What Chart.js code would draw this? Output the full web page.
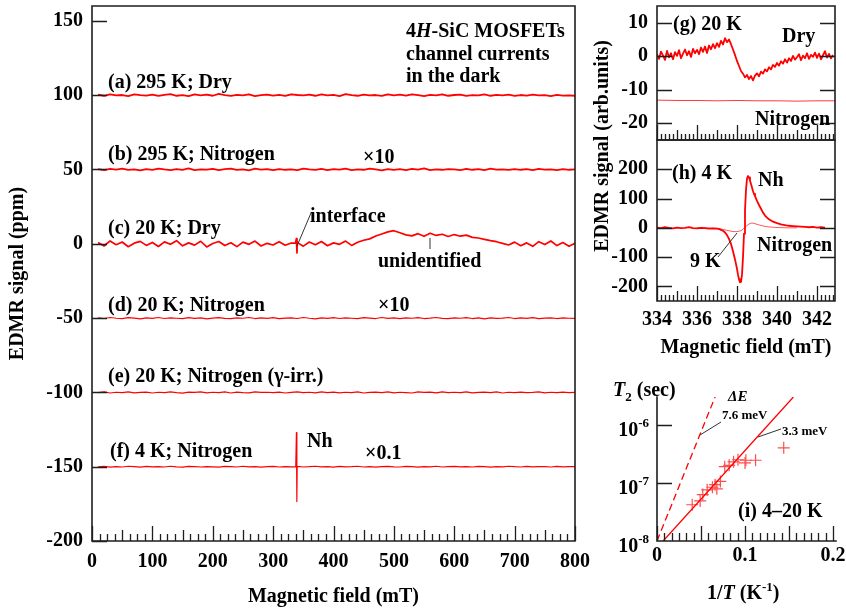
<!DOCTYPE html>
<html><head><meta charset="utf-8"><title>EDMR 4H-SiC MOSFETs</title>
<script src="https://cdn.jsdelivr.net/npm/chart.js@4.4.1/dist/chart.umd.min.js"></script>
<style>
html,body{margin:0;padding:0;background:#fff}
#wrap{position:relative;width:846px;height:614px;overflow:hidden;font-family:'Liberation Serif','Times New Roman',serif;font-weight:bold;color:#000}
#wrap canvas{position:absolute}
.t{position:absolute;white-space:nowrap;font-size:20px;line-height:20px}
.sm{position:absolute;white-space:nowrap;font-size:13px;line-height:13px}
svg{position:absolute;left:0;top:0}
</style></head><body>
<div id="wrap">
<canvas id="cMain" width="600" height="614" style="left:0;top:0"></canvas>
<canvas id="cG" width="246" height="150" style="left:600px;top:0"></canvas>
<canvas id="cH" width="246" height="230" style="left:600px;top:130px"></canvas>
<canvas id="cI" width="246" height="234" style="left:600px;top:380px"></canvas>
<svg width="846" height="614">
<g stroke="#333" stroke-width="1" fill="none">
<line x1="297" y1="246" x2="311" y2="213"/>
<line x1="430" y1="238" x2="430" y2="249"/>
<line x1="718" y1="257" x2="737" y2="233"/>
<line x1="700" y1="435" x2="721" y2="422"/>
<line x1="758" y1="437" x2="781" y2="429"/>
</g>
</svg>
<div class="t" style="left:108px;top:71px">(a) 295 K; Dry</div>
<div class="t" style="left:108px;top:143px">(b) 295 K; Nitrogen</div>
<div class="t" style="left:363px;top:146px">×10</div>
<div class="t" style="left:108px;top:217px">(c) 20 K; Dry</div>
<div class="t" style="left:310px;top:205px">interface</div>
<div class="t" style="left:378px;top:250px">unidentified</div>
<div class="t" style="left:108px;top:294px">(d) 20 K; Nitrogen</div>
<div class="t" style="left:378px;top:294px">×10</div>
<div class="t" style="left:108px;top:365px">(e) 20 K; Nitrogen (γ-irr.)</div>
<div class="t" style="left:110px;top:440px">(f) 4 K; Nitrogen</div>
<div class="t" style="left:307px;top:430px">Nh</div>
<div class="t" style="left:365px;top:442px">×0.1</div>
<div class="t" style="left:406px;top:20px">4<i>H</i>-SiC MOSFETs</div>
<div class="t" style="left:406px;top:43px">channel currents</div>
<div class="t" style="left:406px;top:65px">in the dark</div>
<div class="t" style="left:673px;top:13px">(g) 20 K</div>
<div class="t" style="left:782px;top:25px">Dry</div>
<div class="t" style="left:755px;top:108px">Nitrogen</div>
<div class="t" style="left:672px;top:162px">(h) 4 K</div>
<div class="t" style="left:758px;top:169px">Nh</div>
<div class="t" style="left:757px;top:234px">Nitrogen</div>
<div class="t" style="left:690px;top:250px">9 K</div>
<div class="t" style="left:601px;top:146px;transform:translate(-50%,-50%) rotate(-90deg)">EDMR signal (arb.units)</div>
<div class="t" style="left:613px;top:379px"><i>T</i><span style="font-size:13px;position:relative;top:5px">2</span> (sec)</div>
<div class="t" style="left:728px;top:389px;font-size:15px;line-height:15px"><i>ΔE</i></div>
<div class="sm" style="left:722px;top:408px">7.6 meV</div>
<div class="sm" style="left:782px;top:424px">3.3 meV</div>
<div class="t" style="left:738px;top:500px">(i) 4–20 K</div>
<div class="t" style="left:707px;top:582px">1/<i>T</i> (K<span style="font-size:13px;position:relative;top:-8px">-1</span>)</div>
</div>
<script>
// ---------- data: main panel (magnetic field in mT, signal in ppm, offset traces) ----------
const fieldMain = [10,20,30,40,50,60,70,80,90,100,110,120,130,140,150,160,170,180,190,200,
  210,220,230,240,250,260,270,280,290,300,310,320,330,340,350,360,370,380,390,400,
  410,420,430,440,450,460,470,480,490,500,510,520,530,540,550,560,570,580,590,600,
  610,620,630,640,650,660,670,680,690,700,710,720,730,740,750,760,770,780,790,800];
const traceA = [100.3,99.6,100.5,99.8,100.1,99.4,100.6,100.0,99.7,100.4,
  99.5,100.2,100.7,99.6,100.0,99.3,100.5,99.9,100.3,99.6,
  100.8,100.1,99.5,100.2,99.8,100.6,99.4,100.0,100.4,99.7,
  100.2,99.5,100.6,100.1,99.8,100.3,99.6,100.5,99.9,100.2,
  99.4,100.7,100.0,99.6,100.4,99.8,100.1,99.5,100.6,99.9,
  100.3,99.7,100.5,100.0,99.4,100.2,99.8,100.6,99.6,100.1,
  100.4,99.5,100.0,99.8,100.5,99.6,100.2,99.9,100.3,99.5,
  100.1,99.7,100.4,99.8,100.0,99.4,100.2,99.7,99.9,99.6];
const traceB = [50.2,49.5,50.4,49.9,50.6,49.7,50.1,49.4,50.3,49.8,
  50.5,50.0,49.6,50.3,49.8,50.7,49.5,50.1,49.9,50.4,
  49.6,50.2,50.6,49.7,50.0,49.4,50.5,49.9,50.2,49.6,
  50.3,49.8,50.1,49.5,50.6,50.0,49.7,50.4,49.6,50.2,
  49.9,50.5,49.5,50.1,49.8,50.6,50.0,49.4,50.3,49.7,
  50.2,49.6,50.4,49.9,50.7,49.5,50.1,49.8,50.3,50.0,
  49.6,50.4,49.8,50.2,49.5,50.5,49.9,50.1,49.7,50.3,
  49.8,50.2,49.6,50.4,49.9,50.1,49.5,50.3,49.8,50.0];
const traceC = [0.8,-1.5,1.9,-0.6,1.2,-2.0,0.4,1.6,-1.1,0.9,
  -1.8,1.3,-0.3,2.1,-1.4,0.6,-0.9,1.7,-2.1,0.2,
  1.5,-1.2,0.7,-1.9,1.1,-0.4,1.8,-1.5,0.3,-0.8,
  1.4,-1.0,0.5,0.9,-1.6,1.2,-0.7,1.5,-1.3,0.6,
  -0.4,1.8,-1.1,1.0,2.4,3.3,5.2,6.6,8.0,8.8,
  7.4,6.0,5.3,6.8,5.0,7.1,5.6,6.4,4.9,6.2,
  5.1,5.8,4.3,3.9,3.0,2.1,1.4,0.3,-0.8,1.1,
  -1.3,0.6,-1.7,1.4,-0.5,1.9,-1.2,0.8,-1.6,0.4];
const interfaceField = [337, 338.5, 339.5, 341];
const interfaceSignal = [0.4, 3.5, -6.2, 0.6];
const traceD = [-49.8,-50.3,-49.6,-50.1,-50.4,-49.7,-50.0,-50.5,-49.9,-50.2,
  -49.6,-50.3,-49.8,-50.1,-50.4,-49.7,-50.2,-49.9,-50.5,-50.0,
  -49.7,-50.2,-50.4,-49.8,-50.1,-49.6,-50.3,-49.9,-50.2,-49.7,
  -50.4,-50.0,-49.8,-50.3,-49.6,-50.1,-50.5,-49.9,-50.2,-49.7,
  -50.3,-49.8,-50.1,-50.4,-49.7,-50.0,-50.3,-49.6,-50.2,-49.9,
  -50.4,-49.8,-50.1,-49.7,-50.3,-50.0,-49.6,-50.2,-50.4,-49.9,
  -50.1,-49.7,-50.3,-49.9,-50.5,-49.8,-50.2,-50.0,-49.6,-50.3,
  -49.9,-50.2,-49.7,-50.4,-50.0,-49.8,-50.3,-49.9,-50.1,-50.2];
const traceE = [-100.2,-99.7,-100.4,-99.9,-100.1,-99.6,-100.3,-100.0,-99.8,-100.4,
  -99.9,-100.2,-99.6,-100.1,-100.5,-99.8,-100.0,-99.7,-100.3,-99.9,
  -100.2,-99.6,-100.4,-99.8,-100.1,-100.3,-99.7,-100.0,-99.9,-100.2,
  -99.8,-100.4,-100.0,-99.6,-100.2,-99.9,-100.3,-99.7,-100.1,-99.8,
  -100.3,-99.9,-100.1,-99.6,-100.4,-100.0,-99.8,-100.2,-99.7,-100.3,
  -99.9,-100.1,-100.4,-99.7,-100.0,-99.8,-100.3,-99.6,-100.2,-99.9,
  -100.1,-99.7,-100.3,-100.0,-99.8,-100.2,-99.6,-100.4,-99.9,-100.1,
  -99.8,-100.2,-100.0,-99.7,-100.3,-99.9,-100.1,-99.8,-100.2,-100.0];
const traceF = [-150.1,-149.8,-150.3,-149.9,-150.2,-149.7,-150.0,-150.3,-149.8,-150.1,
  -149.9,-150.2,-149.7,-150.1,-150.3,-149.8,-150.0,-150.2,-149.9,-150.1,
  -150.3,-149.8,-150.0,-150.2,-149.7,-150.1,-149.9,-150.3,-150.0,-149.8,
  -150.2,-149.9,-150.1,-149.8,-150.2,-150.0,-149.7,-150.1,-149.9,-150.3,
  -149.8,-150.1,-150.0,-149.7,-150.2,-149.9,-150.3,-150.0,-149.8,-150.1,
  -150.2,-149.8,-150.0,-150.3,-149.9,-150.1,-149.7,-150.2,-150.0,-149.8,
  -150.1,-149.9,-150.2,-149.8,-150.0,-150.3,-149.9,-150.1,-149.7,-150.0,
  -150.2,-149.8,-150.1,-149.9,-150.0,-150.2,-149.8,-150.1,-149.9,-150.0];
const nhField = [337.5, 338.6, 339.3, 339.8];
const nhSignal = [-150.1, -127, -173.5, -150.2];
const mainXTicks = [0,100,200,300,400,500,600,700,800];
const mainYTicks = [-200,-150,-100,-50,0,50,100,150];

// ---------- data: panel (g) 20 K ----------
const gField = [334.0,334.1,334.2,334.3,334.4,334.5,334.6,334.7,334.8,334.9,
  335.0,335.1,335.2,335.3,335.4,335.5,335.6,335.7,335.8,335.9,
  336.0,336.1,336.2,336.3,336.4,336.5,336.6,336.7,336.8,336.9,
  337.0,337.1,337.2,337.3,337.4,337.5,337.6,337.7,337.8,337.9,
  338.0,338.1,338.2,338.3,338.4,338.5,338.6,338.7,338.8,338.9,
  339.0,339.1,339.2,339.3,339.4,339.5,339.6,339.7,339.8,339.9,
  340.0,340.1,340.2,340.3,340.4,340.5,340.6,340.7,340.8,340.9,
  341.0,341.1,341.2,341.3,341.4,341.5,341.6,341.7,341.8,341.9,
  342.0,342.1,342.2,342.3,342.4,342.5,342.6,342.7,342.8];
const gDry = [0.6,-0.8,1.4,0.2,-1.1,1.6,-0.3,0.9,-0.9,1.2,
  0.1,1.8,-0.6,0.8,2.0,0.3,1.5,-0.2,2.2,0.9,
  1.9,0.6,2.6,1.3,2.9,1.0,3.2,2.1,3.6,2.4,
  3.9,2.8,4.6,3.5,5.4,4.2,5.0,3.6,2.0,0.4,
  -1.4,-2.9,-4.4,-5.2,-6.3,-5.6,-6.8,-5.9,-7.2,-5.8,
  -5.1,-6.0,-4.6,-5.2,-3.9,-4.5,-3.3,-3.9,-2.6,-3.2,
  -2.0,-2.8,-1.5,-2.2,-0.9,-1.9,-0.6,-1.4,0.1,-1.0,
  -0.3,0.6,-1.2,0.2,-0.6,0.9,-0.8,0.4,-0.2,1.1,
  -0.5,0.8,-0.9,0.3,1.5,-0.4,0.7,-0.6,0.4];
const gNitrogenField = [334.0,335.0,336.0,337.0,338.0,339.0,340.0,341.0,342.0,342.9];
const gNitrogen = [-13.1,-13.2,-13.2,-13.3,-13.2,-13.3,-13.3,-13.4,-13.3,-13.3];
const gYTicks = [-20,-10,0,10];

// ---------- data: panel (h) 4 K and 9 K ----------
const hField = [334.0,334.2,334.4,334.6,334.8,335.0,335.2,335.4,335.6,335.8,336.0,336.2,336.4,336.6,336.8,
  337.0,337.1,337.2,337.3,337.4,337.5,337.6,337.7,337.8,337.9,338.0,
  338.05,338.1,338.15,338.2,338.25,338.3,338.35,338.4,338.45,338.5,338.55,338.6,338.65,338.7,338.75,338.8,338.85,338.9,
  339.0,339.1,339.2,339.3,339.4,339.5,339.6,
  339.8,340.0,340.2,340.4,340.6,340.8,341.0,341.2,341.4,341.6,341.8,342.0,342.2,342.4];
const h4K = [1,-1,2,0,-2,1,-1,0,2,-1,-2,0,-1,-3,-2,
  -3,-4,-7,-10,-16,-25,-38,-55,-80,-108,-140,
  -160,-176,-186,-185,-160,-100,-20,60,130,168,177,172,162,150,138,125,116,108,
  92,78,65,52,42,35,29,
  21,16,12,9,7,6,5,4,3,2,3,1,2,1];
const h9KField = [336.0,336.5,337.0,337.2,337.4,337.6,337.8,338.0,338.2,338.3,338.4,338.5,338.6,338.7,338.8,338.9,339.0,339.2,339.4,339.6,340.0,340.5,341.0];
const h9K = [0,-1,-2,-4,-7,-10,-13,-13,-10,-5,2,8,13,16,16,14,12,8,5,3,1,0,0];
const hXTicks = [334,336,338,340,342];
const hYTicks = [-200,-100,0,100,200];

// ---------- data: panel (i) T2 vs 1/T ----------
const invT = [0.040,0.049,0.052,0.057,0.063,0.066,0.068,0.072,0.077,0.082,0.087,0.092,0.100,0.101,0.112,0.144];
const t2 = [4.2e-8,4.9e-8,6.3e-8,7.6e-8,8.4e-8,9.3e-8,7.9e-8,1.06e-7,1.9e-7,2.0e-7,2.3e-7,2.5e-7,2.2e-7,2.45e-7,2.45e-7,4.0e-7];
const fit33X = [0.007, 0.155];
const fit33Y = [1e-8, 3.0e-6];
const fit76X = [0, 0.066];
const fit76Y = [1e-8, 3.0e-6];
const iXTicks = [0, 0.1, 0.2];
const iYTicks = [1e-8, 1e-7, 1e-6];
const iYExp = ['-8', '-7', '-6'];

// ---------- helpers ----------
const pts = (xs, ys) => xs.map((x, i) => ({x: x, y: ys[i]}));
const merged = (xs, ys, xs2, ys2) => pts(xs, ys).concat(pts(xs2, ys2)).sort((p, q) => p.x - q.x);
const RED = '#ff0000';
const FONT = "'Liberation Serif','Times New Roman',serif";
const tickFont = {family: FONT, size: 20, weight: 'bold'};

// axis-frame styling per chart (kept outside Chart.js option resolution)
const frameStyle = {
  cMain: {sides: 'tlbr', minor: 12.5, midEvery: 4, majorEvery: 8, lens: [7, 11, 15], yTicks: mainYTicks, yLen: 15, yRight: false},
  cG: {sides: 'tlbr', minor: 0.2, midEvery: 5, majorEvery: 10, lens: [6, 10, 15], yTicks: gYTicks, yLen: 15, yRight: true},
  cH: {sides: 'tlbr', minor: 0.2, midEvery: 5, majorEvery: 10, lens: [6, 10, 15], yTicks: hYTicks, yLen: 15, yRight: true},
  cI: {sides: 'lb', minor: 1 / 120, midEvery: 0, majorEvery: 6, lens: [8, 8, 15], yTicks: [1e-7, 1e-6], yLen: 15, yRight: false}
};

const framePlugin = {
  id: 'axisFrame',
  afterDraw(chart) {
    const o = frameStyle[chart.canvas.id];
    if (!o) return;
    const ctx = chart.ctx, a = chart.chartArea, xs = chart.scales.x, ys = chart.scales.y;
    ctx.save();
    ctx.strokeStyle = '#1e1e1e';
    ctx.lineWidth = 1.6;
    ctx.lineCap = 'square';
    ctx.beginPath();
    const s = o.sides;
    if (s.indexOf('t') >= 0) { ctx.moveTo(a.left, a.top); ctx.lineTo(a.right, a.top); }
    if (s.indexOf('b') >= 0) { ctx.moveTo(a.left, a.bottom); ctx.lineTo(a.right, a.bottom); }
    if (s.indexOf('l') >= 0) { ctx.moveTo(a.left, a.top); ctx.lineTo(a.left, a.bottom); }
    if (s.indexOf('r') >= 0) { ctx.moveTo(a.right, a.top); ctx.lineTo(a.right, a.bottom); }
    ctx.stroke();
    ctx.lineWidth = 1.3;
    ctx.lineCap = 'butt';
    ctx.beginPath();
    const k0 = Math.ceil(xs.min / o.minor - 1e-6);
    const k1 = Math.floor(xs.max / o.minor + 1e-6);
    for (let k = k0; k <= k1; k++) {
      let len = o.lens[0];
      if (o.majorEvery && k % o.majorEvery === 0) len = o.lens[2];
      else if (o.midEvery && k % o.midEvery === 0) len = o.lens[1];
      const px = Math.round(xs.getPixelForValue(k * o.minor)) + 0.5;
      ctx.moveTo(px, a.bottom);
      ctx.lineTo(px, a.bottom - len);
    }
    for (const v of o.yTicks) {
      const py = Math.round(ys.getPixelForValue(v)) + 0.5;
      ctx.moveTo(a.left, py); ctx.lineTo(a.left + o.yLen, py);
      if (o.yRight) { ctx.moveTo(a.right, py); ctx.lineTo(a.right - o.yLen, py); }
    }
    ctx.stroke();
    ctx.restore();
  }
};
Chart.register(framePlugin);

function baseOpts(extra) {
  return Object.assign({
    responsive: false, animation: false, events: [], devicePixelRatio: 1,
    elements: {point: {radius: 0}, line: {tension: 0, borderJoinStyle: 'round'}},
  }, extra);
}
const noGrid = {display: false, drawTicks: false};
const hidden = {legend: {display: false}, tooltip: {enabled: false}};

// ---------- main chart ----------
new Chart(document.getElementById('cMain'), {
  type: 'line',
  data: {datasets: [
    {data: pts(fieldMain, traceA), borderColor: RED, borderWidth: 1.8},
    {data: pts(fieldMain, traceB), borderColor: RED, borderWidth: 1.8},
    {data: merged(fieldMain, traceC, interfaceField, interfaceSignal), borderColor: RED, borderWidth: 1.7},
    {data: pts(fieldMain, traceD), borderColor: RED, borderWidth: 1.2},
    {data: pts(fieldMain, traceE), borderColor: RED, borderWidth: 1.2},
    {data: merged(fieldMain, traceF, nhField, nhSignal), borderColor: RED, borderWidth: 1.2}
  ]},
  options: baseOpts({
    layout: {padding: {left: 0, top: 6, right: 25, bottom: 0}},
    plugins: hidden,
    scales: {
      x: {type: 'linear', min: 0, max: 800, grid: noGrid, border: {display: false},
        ticks: {padding: 9, font: tickFont, color: '#000', maxRotation: 0, autoSkip: false},
        afterBuildTicks: s => { s.ticks = mainXTicks.map(v => ({value: v})); },
        afterFit: s => { s.height = 73; s.paddingLeft = 0; s.paddingRight = 0; },
        title: {display: true, text: 'Magnetic field (mT)', color: '#000', font: {family: FONT, size: 20, weight: 'bold'}, padding: {top: 0, bottom: 5}}},
      y: {type: 'linear', min: -200, max: 160, grid: noGrid, border: {display: false},
        ticks: {padding: 9, font: tickFont, color: '#000'},
        afterBuildTicks: s => { s.ticks = mainYTicks.map(v => ({value: v})); },
        afterFit: s => { s.width = 92; s.paddingTop = 0; s.paddingBottom = 0; },
        title: {display: true, text: 'EDMR signal (ppm)', color: '#000', font: {family: FONT, size: 20, weight: 'bold'}, padding: {top: 6, bottom: 0}}}
    }
  })
});

// ---------- panel (g) ----------
new Chart(document.getElementById('cG'), {
  type: 'line',
  data: {datasets: [
    {data: pts(gField, gDry), borderColor: RED, borderWidth: 1.8},
    {data: pts(gNitrogenField, gNitrogen), borderColor: '#ff3b3b', borderWidth: 1}
  ]},
  options: baseOpts({
    layout: {padding: {left: 0, top: 6, right: 11, bottom: 0}},
    plugins: hidden,
    scales: {
      x: {type: 'linear', min: 334, max: 342.9, grid: noGrid, border: {display: false},
        ticks: {display: false},
        afterFit: s => { s.height = 10; s.paddingLeft = 0; s.paddingRight = 0; }},
      y: {type: 'linear', min: -25, max: 15, grid: noGrid, border: {display: false},
        ticks: {padding: 9, font: tickFont, color: '#000'},
        afterBuildTicks: s => { s.ticks = gYTicks.map(v => ({value: v})); },
        afterFit: s => { s.width = 57; s.paddingTop = 0; s.paddingBottom = 0; }}
    }
  })
});

// ---------- panel (h) ----------
new Chart(document.getElementById('cH'), {
  type: 'line',
  data: {datasets: [
    {data: pts(hField, h4K), borderColor: RED, borderWidth: 1.8},
    {data: pts(h9KField, h9K), borderColor: '#ff5a5a', borderWidth: 1}
  ]},
  options: baseOpts({
    layout: {padding: {left: 0, top: 10, right: 11, bottom: 0}},
    plugins: hidden,
    scales: {
      x: {type: 'linear', min: 334, max: 342.9, grid: noGrid, border: {display: false},
        ticks: {padding: 7, font: tickFont, color: '#000', maxRotation: 0, autoSkip: false},
        afterBuildTicks: s => { s.ticks = hXTicks.map(v => ({value: v})); },
        afterFit: s => { s.height = 59; s.paddingLeft = 0; s.paddingRight = 0; },
        title: {display: true, text: 'Magnetic field (mT)', color: '#000', font: {family: FONT, size: 20, weight: 'bold'}, padding: {top: 0, bottom: 0}}},
      y: {type: 'linear', min: -250, max: 300, grid: noGrid, border: {display: false},
        ticks: {padding: 9, font: tickFont, color: '#000'},
        afterBuildTicks: s => { s.ticks = hYTicks.map(v => ({value: v})); },
        afterFit: s => { s.width = 57; s.paddingTop = 0; s.paddingBottom = 0; }}
    }
  })
});

// ---------- panel (i) ----------
const chartI = new Chart(document.getElementById('cI'), {
  type: 'line',
  data: {datasets: [
    {data: pts(fit76X, fit76Y), borderColor: RED, borderWidth: 1.3, borderDash: [7, 4]},
    {data: pts(fit33X, fit33Y), borderColor: RED, borderWidth: 1.3},
    {data: pts(invT, t2), showLine: false, pointStyle: 'cross', pointRadius: 6, borderColor: '#ff4d4d', pointBorderWidth: 1.2, borderWidth: 1.2}
  ]},
  options: baseOpts({
    layout: {padding: {left: 0, top: 17, right: 10, bottom: 0}},
    plugins: hidden,
    scales: {
      x: {type: 'linear', min: 0, max: 0.2034, grid: noGrid, border: {display: false},
        ticks: {padding: 3, font: tickFont, color: '#000', maxRotation: 0, autoSkip: false},
        afterBuildTicks: s => { s.ticks = iXTicks.map(v => ({value: v})); },
        afterFit: s => { s.height = 73; s.paddingLeft = 0; s.paddingRight = 0; }},
      y: {type: 'logarithmic', min: 1e-8, max: 3e-6, grid: noGrid, border: {display: false},
        ticks: {display: false},
        afterBuildTicks: s => { s.ticks = iYTicks.map(v => ({value: v})); },
        afterFit: s => { s.width = 57; s.paddingTop = 0; s.paddingBottom = 0; }}
    }
  })
});

// log-axis tick labels with superscript exponents, placed from the library's own y scale
(function () {
  const wrap = document.getElementById('wrap');
  const ys = chartI.scales.y;
  iYTicks.forEach((v, i) => {
    const d = document.createElement('div');
    d.className = 't';
    d.innerHTML = '10<span style="font-size:13px;position:relative;top:-9px">' + iYExp[i] + '</span>';
    d.style.right = (846 - 649) + 'px';
    d.style.top = (380 + ys.getPixelForValue(v) - 6) + 'px';
    wrap.appendChild(d);
  });
})();
</script>
</body></html>
